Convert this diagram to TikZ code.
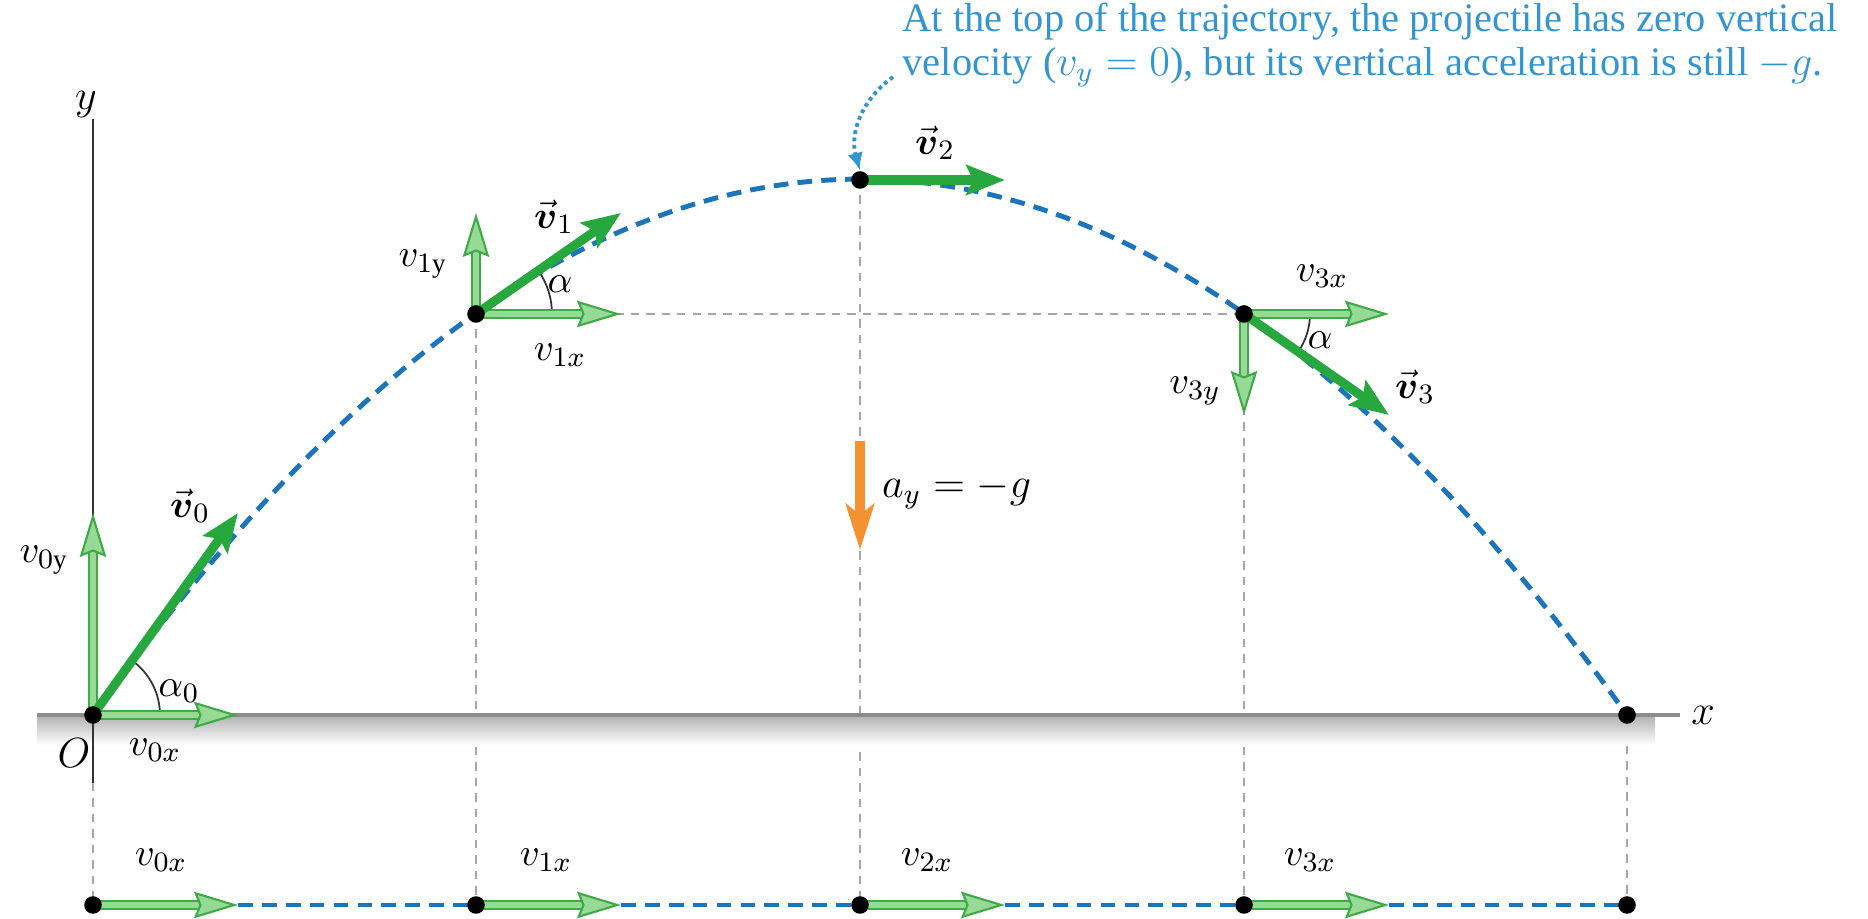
\documentclass[tikz,border=0pt]{standalone}
\usepackage{amsmath,amssymb}
\usepackage{fontspec}
\setmainfont{Liberation Serif}
\usepackage{xcolor}
\usetikzlibrary{arrows.meta,positioning,calc,angles}

\definecolor{trajblue}{RGB}{28,117,188}
\definecolor{noteblue}{RGB}{52,150,208}
\definecolor{vecgreen}{RGB}{38,168,62}
\definecolor{compedge}{RGB}{62,170,72}
\definecolor{compfill}{RGB}{150,218,150}
\definecolor{accorange}{RGB}{244,146,50}

\begin{document}
\begin{tikzpicture}[
  dot/.style={circle, fill=black, inner sep=0pt, minimum size=5pt},
  traj/.style={draw=trajblue, line width=1.4pt, dash pattern=on 4.2pt off 2.6pt},
  guide/.style={draw=gray!70, line width=0.45pt, dash pattern=on 2.4pt off 2pt},
  ground/.style={draw=gray!90, line width=1.1pt},
  vec/.style={draw=vecgreen, line width=2.6pt,
              -{Stealth[length=11pt, width=8.5pt, inset=2pt]}},
  comp/.style={draw=compfill, line width=1.6pt,
               -{Stealth[length=12.5pt, width=7.5pt, inset=1.5pt, color=compedge,
                         fill=compfill, line width=0.6pt]},
               preaction={draw=compedge, line width=3.1pt, arrows=-, shorten >=9pt}},
  accel/.style={draw=accorange, line width=2.6pt,
                -{Stealth[length=13pt, width=8pt, inset=3pt]}},
  anglearc/.style={draw=black!80, line width=0.5pt},
  lbl/.style={font=\fontsize{11}{13}\selectfont, inner sep=1pt},
  note/.style={font=\fontsize{11.5}{12.6}\selectfont, text=noteblue, align=left,
               inner sep=0pt},
]
  \useasboundingbox (0,0) rectangle (18.68,9.19);

  % ===== Points on the path and their velocities =====
  \coordinate (p0) at (0.93, 2.04);
  \coordinate (p1) at (4.76, 6.05);
  \coordinate (p2) at (8.60, 7.39);
  \coordinate (p3) at (12.44, 6.05);
  \coordinate (p4) at (16.27, 2.04);

  \coordinate (v0tip)  at ($(p0)+(1.45,2.02)$);
  \coordinate (v0xtip) at ($(p0)+(1.45,0)$);
  \coordinate (v0ytip) at ($(p0)+(0,2.02)$);
  \coordinate (v1tip)  at ($(p1)+(1.45,1.01)$);
  \coordinate (v1xtip) at ($(p1)+(1.45,0)$);
  \coordinate (v1ytip) at ($(p1)+(0,1.01)$);
  \coordinate (v2tip)  at ($(p2)+(1.45,0)$);
  \coordinate (v3tip)  at ($(p3)+(1.45,-1.01)$);
  \coordinate (v3xtip) at ($(p3)+(1.45,0)$);
  \coordinate (v3ytip) at ($(p3)+(0,-1.01)$);

  % bottom row
  \coordinate (b0) at (0.93, 0.14);
  \coordinate (b1) at (4.76, 0.14);
  \coordinate (b2) at (8.60, 0.14);
  \coordinate (b3) at (12.44, 0.14);
  \coordinate (b4) at (16.27, 0.14);
  \coordinate (b0tip) at ($(b0)+(1.45,0)$);
  \coordinate (b1tip) at ($(b1)+(1.45,0)$);
  \coordinate (b2tip) at ($(b2)+(1.45,0)$);
  \coordinate (b3tip) at ($(b3)+(1.45,0)$);

  % ===== Guide lines =====
  \coordinate (axbot) at (0.93, 1.36);
  \coordinate (axtop) at (0.93, 8.00);
  \draw[guide] (axbot) -- (b0);
  \draw[guide] (p1) -- (b1);
  \draw[guide] (p2) -- (b2);
  \draw[guide] (p3) -- (b3);
  \draw[guide] (p4) -- (b4);
  \draw[guide] (p1) -- (p3);

  % ===== Ground and axes =====
  \shade[top color=gray!60, bottom color=white] (0.37,2.03) rectangle (16.55,1.74);
  \coordinate (gl) at (0.37, 2.04);
  \coordinate (gr) at (16.80, 2.04);
  \draw[ground] (gl) -- (gr);
  \draw[black!80, line width=0.6pt] (axbot) -- (axtop);
  \node[lbl, font=\fontsize{12}{14}\selectfont] (ylbl) at (0.86, 8.14) {$y$};
  \node[lbl, font=\fontsize{12}{14}\selectfont, right=2pt of gr] (xlbl) {$x$};
  \node[lbl, font=\fontsize{12}{14}\selectfont] (olbl) at (0.74, 1.66) {$O$};

  % ===== Trajectory =====
  \draw[traj] plot[domain=0.93:16.27, samples=80]
        (\x, {2.04+0.0911*(\x-0.93)*(16.27-\x)});
  \draw[traj] (b0tip) -- (b1);
  \draw[traj] (b1tip) -- (b2);
  \draw[traj] (b2tip) -- (b3);
  \draw[traj] (b3tip) -- (b4);

  % ===== Angles =====
  \pic[anglearc, angle radius=0.67cm] {angle = v0xtip--p0--v0tip};
  \pic[anglearc, angle radius=0.76cm] {angle = v1xtip--p1--v1tip};
  \pic[anglearc, angle radius=0.66cm] {angle = v3tip--p3--v3xtip};

  % ===== Components =====
  \draw[comp] (p0) -- (v0xtip);
  \draw[comp] (p0) -- (v0ytip);
  \draw[comp] (p1) -- (v1xtip);
  \draw[comp] (p1) -- (v1ytip);
  \draw[comp] (p3) -- (v3xtip);
  \draw[comp] (p3) -- (v3ytip);
  \draw[comp] (b0) -- (b0tip);
  \draw[comp] (b1) -- (b1tip);
  \draw[comp] (b2) -- (b2tip);
  \draw[comp] (b3) -- (b3tip);

  % ===== Velocities =====
  \draw[vec] (p0) -- (v0tip);
  \draw[vec] (p1) -- (v1tip);
  \draw[vec] (p2) -- (v2tip);
  \draw[vec] (p3) -- (v3tip);

  % ===== Acceleration =====
  \coordinate (atop) at (8.60, 4.78);
  \coordinate (abot) at (8.60, 3.69);
  \draw[accel] (atop) -- (abot);
  \node[lbl, font=\fontsize{12}{14}\selectfont, anchor=west] (alabel) at (8.78, 4.28)
       {$a_y = -g$};

  % ===== Dots =====
  \node[dot] (d0) at (p0) {};
  \node[dot] (d1) at (p1) {};
  \node[dot] (d2) at (p2) {};
  \node[dot] (d3) at (p3) {};
  \node[dot] (d4) at (p4) {};
  \node[dot] (e0) at (b0) {};
  \node[dot] (e1) at (b1) {};
  \node[dot] (e2) at (b2) {};
  \node[dot] (e3) at (b3) {};
  \node[dot] (e4) at (b4) {};

  % ===== Labels =====
  \node[lbl] (v0lbl)  at (1.90, 4.13) {$\vec{\boldsymbol{v}}_0$};
  \node[lbl] (v0ylbl) at (0.44, 3.59) {$v_{0\mathrm{y}}$};
  \node[lbl] (a0lbl)  at (1.79, 2.28) {$\alpha_0$};
  \node[lbl] (v0xlbl) at (1.55, 1.69) {$v_{0x}$};
  \node[lbl] (v1lbl)  at (5.54, 7.02) {$\vec{\boldsymbol{v}}_1$};
  \node[lbl] (v1ylbl) at (4.23, 6.55) {$v_{1\mathrm{y}}$};
  \node[lbl] (a1lbl)  at (5.60, 6.35) {$\alpha$};
  \node[lbl] (v1xlbl) at (5.60, 5.64) {$v_{1x}$};
  \node[lbl] (v2lbl)  at (9.35, 7.76) {$\vec{\boldsymbol{v}}_2$};
  \node[lbl] (v3xlbl) at (13.22, 6.43) {$v_{3x}$};
  \node[lbl] (a3lbl)  at (13.20, 5.79) {$\alpha$};
  \node[lbl] (v3ylbl) at (11.95, 5.28) {$v_{3y}$};
  \node[lbl] (v3lbl)  at (14.15, 5.32) {$\vec{\boldsymbol{v}}_3$};
  \node[lbl] (b0lbl)  at (1.61, 0.59) {$v_{0x}$};
  \node[lbl] (b1lbl)  at (5.46, 0.59) {$v_{1x}$};
  \node[lbl] (b2lbl)  at (9.27, 0.59) {$v_{2x}$};
  \node[lbl] (b3lbl)  at (13.10, 0.59) {$v_{3x}$};

  % ===== Note at the top =====
  \node[note, anchor=north west] (topnote) at (9.02, 9.17)
       {At the top of the trajectory, the projectile has zero vertical\\
        velocity ($v_y = 0$), but its vertical acceleration is still $-g$.};
  \coordinate (notestart) at (8.93, 8.42);
  \draw[noteblue, line width=1.1pt, densely dotted, -{Latex[length=5pt, width=4.5pt]}]
       (notestart) to[bend right=35] (d2.north);

\end{tikzpicture}
\end{document}
